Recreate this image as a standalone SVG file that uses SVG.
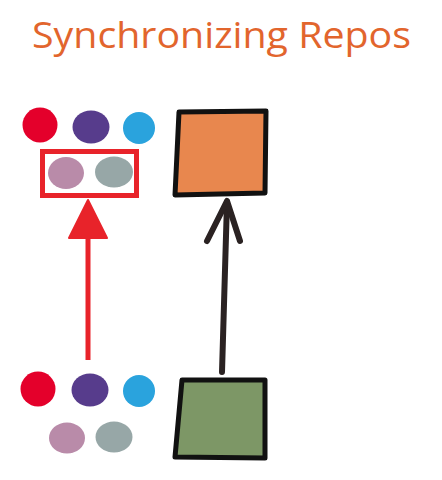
<svg xmlns="http://www.w3.org/2000/svg" width="442" height="480" viewBox="0 0 442 480">
<style>
.title{font-family:"Open Sans","Noto Sans","Liberation Sans",sans-serif;font-size:36px;fill:#e2652d}
.red{fill:#e4002b}.purple{fill:#573c8c}.blue{fill:#2aa3dd}.pink{fill:#b98ba9}.gray{fill:#97a7a7}
.box{stroke:#111;stroke-width:5;stroke-linejoin:round}
</style>
<rect width="442" height="480" fill="#fff"/>
<text class="title" x="32" y="48" textLength="379" lengthAdjust="spacingAndGlyphs">Synchronizing Repos</text>

<g id="local-commits">
  <circle class="red" cx="40" cy="125" r="17.5"/>
  <ellipse class="purple" cx="91" cy="127" rx="18.5" ry="16.5"/>
  <circle class="blue" cx="139" cy="128" r="16"/>
  <ellipse class="pink" cx="66" cy="173" rx="18" ry="16"/>
  <ellipse class="gray" cx="114" cy="172" rx="19" ry="15.5"/>
  <rect x="42.5" y="151.5" width="94" height="44" fill="none" stroke="#e8232a" stroke-width="5"/>
</g>

<g id="remote-repo">
  <path class="box" d="M179 112 L266 111 L265 193 L175 195 Z" fill="#e8874e"/>
</g>

<g id="remote-commits">
  <circle class="red" cx="38" cy="389" r="17.5"/>
  <ellipse class="purple" cx="90" cy="390" rx="18.5" ry="16.5"/>
  <circle class="blue" cx="139" cy="391" r="16"/>
  <ellipse class="pink" cx="67" cy="438" rx="18" ry="15.5"/>
  <ellipse class="gray" cx="114" cy="437" rx="18.5" ry="15.5"/>
</g>

<g id="local-repo">
  <path class="box" d="M182 380 L265 380 L265 458 L175 457 Z" fill="#7d9766"/>
</g>

<g id="connectors">
  <line x1="88" y1="236" x2="88" y2="360" stroke="#e8232a" stroke-width="5"/>
  <polygon points="88,200 107,238 69,238" fill="#e8232a" stroke="#e8232a" stroke-width="2" stroke-linejoin="round"/>
  <path d="M222 372 L227 202" fill="none" stroke="#2a2222" stroke-width="6" stroke-linecap="round"/>
  <path d="M207 241 L227 201 L240 241" fill="none" stroke="#2a2222" stroke-width="6" stroke-linecap="round" stroke-linejoin="round"/>
</g>
</svg>
